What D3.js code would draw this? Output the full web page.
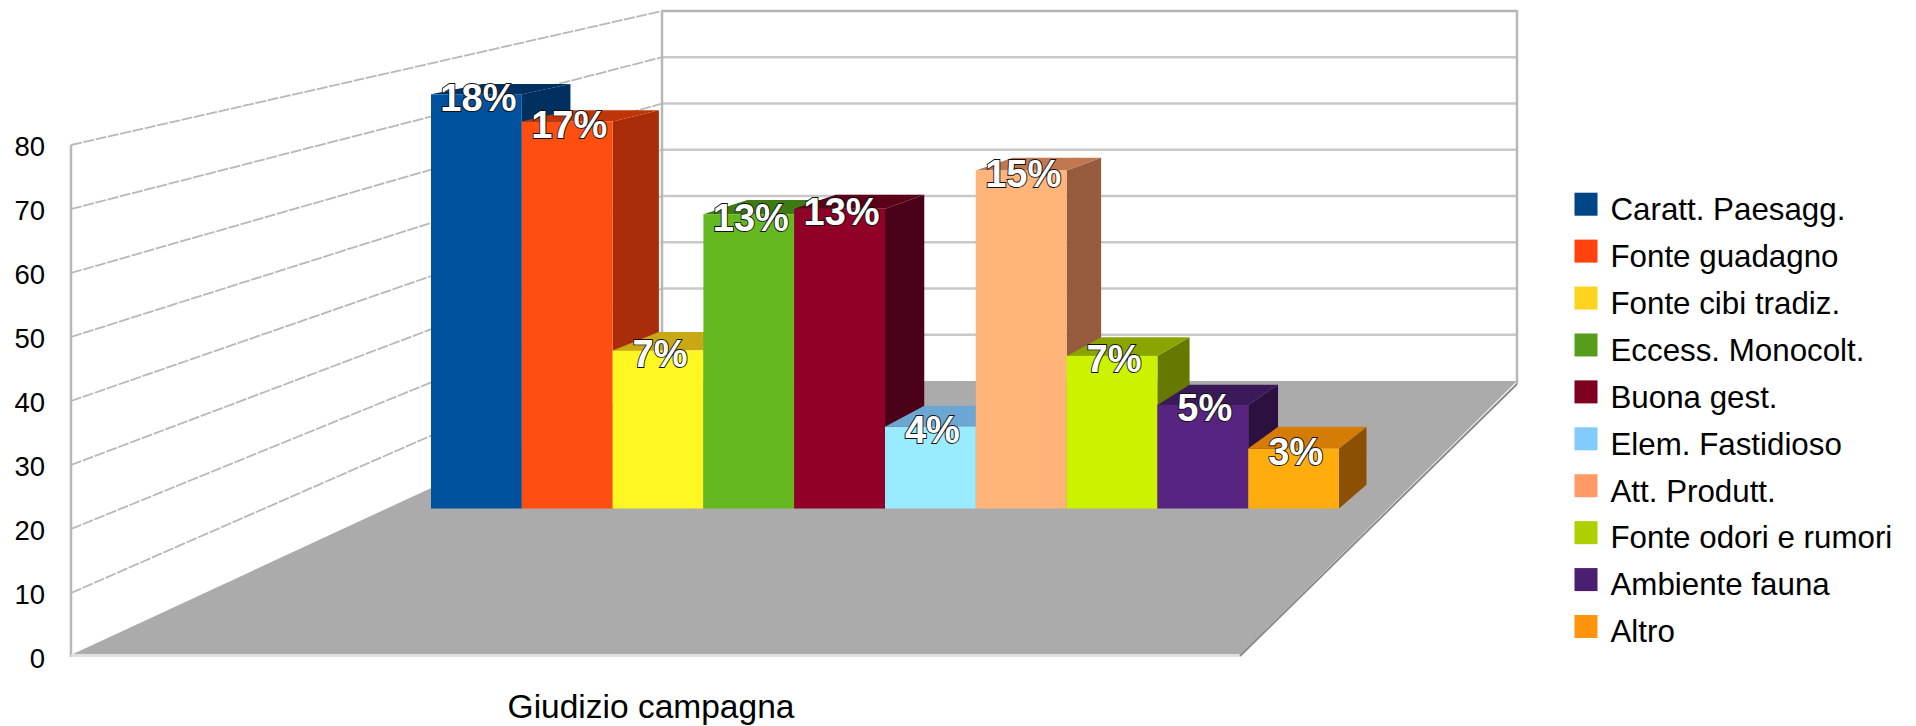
<!DOCTYPE html>
<html><head><meta charset="utf-8">
<script src="https://cdn.jsdelivr.net/npm/d3@7"></script>
<style>html,body{margin:0;padding:0;background:#fff;overflow:hidden}svg{display:block}text{font-family:"Liberation Sans",Arial,sans-serif}</style>
</head><body><svg id="c" width="1916" height="726"></svg>
<script>
const categories=["Caratt. Paesagg.","Fonte guadagno","Fonte cibi tradiz.","Eccess. Monocolt.","Buona gest.","Elem. Fastidioso","Att. Produtt.","Fonte odori e rumori","Ambiente fauna","Altro"];
const values=[76,71,29,54,55,15,62,28,19,11];
const percentLabels=["18%","17%","7%","13%","13%","4%","15%","7%","5%","3%"];
const axisTicks=[0,10,20,30,40,50,60,70,80];
const groupName="Giudizio campagna";
const frontColors=["#00529f","#ff4f10","#fff722","#66b821","#900027","#99ecff","#ffb47a","#cdf200","#582482","#ffad0e"];
const topColors=["#003060","#c03508","#c8a814","#3e7a12","#5a0018","#6ca6d2","#c07850","#8aa500","#3c1a5a","#d47c05"];
const sideColors=["#003060","#a82d08","#8c7a10","#2f5c0e","#4a0018","#4f7a9c","#965a3c","#667800","#2c1040","#8c5005"];
const legendColors=["#004586","#ff420e","#ffd320","#579d1c","#7e0021","#83caff","#ff9966","#aecf00","#4b1f6f","#ff950e"];

const svg=d3.select("#c");
const yLeft=d3.scaleLinear().domain([0,80]).range([657,145]);
const yBack=d3.scaleLinear().domain([0,80]).range([381,11]);
const yBar=d3.scaleLinear().domain([0,80]).range([508.5,72.5]);
const x=d3.scaleBand().domain(categories).range([431,1339]).padding(0);
const wallL=71,wallB=662,wallR=1517,frontR=1240;
const depth=(px,py)=>[0.0259*(2400-px),0.032*(py+230)];
const pts=a=>a.map(p=>p.join(",")).join(" ");

// walls
const grid=svg.append("g");
grid.selectAll(".l").data(axisTicks.slice(1)).join("line")
  .attr("x1",wallL).attr("x2",wallB).attr("y1",d=>yLeft(d)).attr("y2",d=>yBack(d))
  .attr("stroke","#b8b8b8").attr("stroke-width",1.8).attr("stroke-dasharray","11 1.6");
grid.selectAll(".b").data(axisTicks.slice(1)).join("line")
  .attr("x1",wallB).attr("x2",wallR).attr("y1",d=>yBack(d)).attr("y2",d=>yBack(d))
  .attr("stroke",d=>d===80?"#b4b4b4":"#c8c8c8").attr("stroke-width",2.4);
[[wallL,145,wallL,657],[wallB,11,wallB,381],[wallR,10,wallR,384]].forEach(l=>
  grid.append("line").attr("x1",l[0]).attr("y1",l[1]).attr("x2",l[2]).attr("y2",l[3]).attr("stroke","#b8b8b8").attr("stroke-width",2.5));

// floor
svg.append("polygon").attr("points",pts([[wallL+2,yLeft(0)-3],[wallB,yBack(0)],[wallR,yBack(0)],[frontR,yLeft(0)-2]])).attr("fill","#ababab");
svg.append("line").attr("x1",wallL).attr("x2",frontR).attr("y1",yLeft(0)-1.5).attr("y2",yLeft(0)-1.5).attr("stroke","#e0e0e0").attr("stroke-width",3);
svg.append("line").attr("x1",frontR).attr("y1",yLeft(0)-1).attr("x2",wallR).attr("y2",yBack(0)+3).attr("stroke","#8a8a8a").attr("stroke-width",2);

// bars
const bars=svg.selectAll(".bar").data(categories).join("g").attr("class","bar");
bars.each(function(c,i){
  const g=d3.select(this),x0=x(c),x1=x0+x.bandwidth(),yT=yBar(values[i]),yB=yBar(0);
  const [dl,dt]=depth(x0,yT),[dr]=depth(x1,yT),[,db]=depth(x1,yB);
  g.append("polygon").attr("points",pts([[x1,yT],[x1+dr,yT-dt],[x1+dr,yB-db],[x1,yB]])).attr("fill",sideColors[i]);
  g.append("polygon").attr("points",pts([[x0,yT],[x0+dl,yT-dt],[x1+dr,yT-dt],[x1,yT]])).attr("fill",topColors[i]);
  g.append("rect").attr("x",x0).attr("y",yT).attr("width",x.bandwidth()).attr("height",yB-yT).attr("fill",frontColors[i]);
});
// labels
svg.selectAll(".pct").data(categories).join("text").attr("class","pct")
  .attr("x",c=>x(c)+x.bandwidth()/2+2).attr("y",(c,i)=>yBar(values[i])+16.5)
  .attr("text-anchor","middle").attr("font-size",38).attr("font-weight","bold")
  .attr("fill","#fff").attr("stroke","#111").attr("stroke-width",1.8).attr("paint-order","stroke")
  .text((c,i)=>percentLabels[i]);

// axis
const ax=svg.append("g").attr("transform","translate(60,1.5)").call(d3.axisLeft(yLeft).tickValues(axisTicks).tickSize(0).tickPadding(15));
ax.select(".domain").remove();
ax.selectAll("text").attr("font-size",27.5).attr("fill","#000").style("font-family",'"Liberation Sans",Arial,sans-serif');

// group label
svg.append("text").attr("x",651).attr("y",717.5).attr("text-anchor","middle").attr("font-size",33.5).attr("fill","#000").text(groupName);

// legend
const ly=d3.scalePoint().domain(categories).range([192.7,615]);
const lg=svg.selectAll(".lg").data(categories).join("g").attr("class","lg");
lg.append("rect").attr("x",1574.5).attr("y",c=>ly(c)).attr("width",23).attr("height",23).attr("fill",(c,i)=>legendColors[i]);
lg.append("text").attr("x",1610.5).attr("y",c=>ly(c)+27.3).attr("font-size",31.3).attr("fill","#000").text(c=>c);
</script></body></html>
